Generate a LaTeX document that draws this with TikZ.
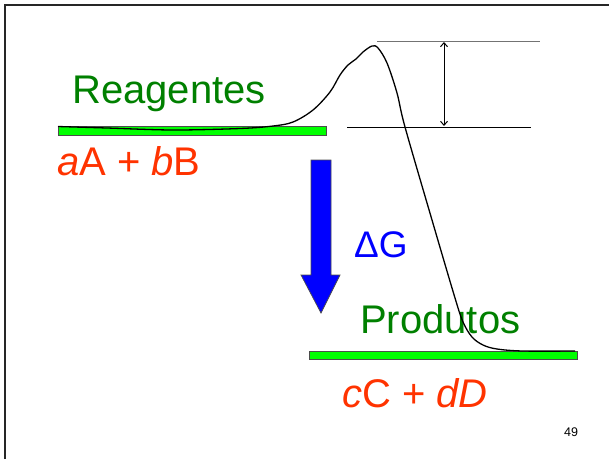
\documentclass[tikz,border=0pt]{standalone}
\usepackage{fontspec}
\setmainfont{Liberation Sans}
\usetikzlibrary{arrows.meta,positioning,calc}
\definecolor{reagred}{HTML}{FF3300}
\definecolor{txtgreen}{HTML}{008000}
\definecolor{bargreen}{HTML}{00FF00}
\definecolor{dgblue}{HTML}{0000FF}
\tikzset{
  bar style/.style={rectangle, draw=black!70, fill=bargreen, line width=0.8pt,
    minimum width=268pt, inner sep=0pt},
  lbl style/.style={inner sep=0pt, anchor=base west, font=\fontsize{40}{44}\selectfont},
  lvl style/.style={line width=0.9pt},
  arr style/.style={{Straight Barb[length=4pt,width=7pt]}-{Straight Barb[length=4pt,width=7pt]}, line width=1pt}
}
\begin{document}
\begin{tikzpicture}[x=1pt,y=-1pt]
\useasboundingbox (0,0) rectangle (609,459);

% slide frame
\draw[line width=2pt, black!85] (4.5,459) -- (4.5,5) -- (609,5);

% energy levels
\node[bar style, minimum height=9pt] (rbar) at (192,130.5) {};
\node[bar style, minimum height=8pt] (pbar) at (443,355) {};

\node[lbl style, text=txtgreen] (reag) at (72,103) {Reagentes};
\node[lbl style, text=reagred] (reagf) at (57,175) {\textit{a}A + \textit{b}B};
\node[lbl style, text=txtgreen] (prod) at (360,333) {Produtos};
\node[lbl style, text=reagred] (prodf) at (342,407) {\textit{c}C + \textit{dD}};

% reaction path
\draw[line width=1.3pt] plot[smooth, tension=0.55] coordinates {
  (58,126.5) (107,128) (173,130) (240,128.5) (273,126) (293,122) (313,110)
  (330,92) (340,75) (348,65) (356,59) (363,52) (372,46) (378,48) (387,63)
  (397,93) (405,127) (432,220) (455,298) (463,322)
  (472,337) (483,345) (497,349) (523,351) (575,351)};

% activation energy
\draw[lvl style, black!55] (377,41) -- (540,41);
\draw[lvl style] (347,127) -- (531,127);
\coordinate (eatop) at (444,42);
\coordinate (eabot) at (444,126);
\draw[arr style] (eatop) -- (eabot);

% free energy arrow
\draw[draw=black!70, fill=dgblue, line width=0.7pt]
  (311,160) -- (331,160) -- (331,275) -- (340,275) -- (321,313)
  -- (301,275) -- (311,275) -- cycle;
\node[inner sep=0pt, anchor=base west, text=dgblue, font=\fontsize{37}{40}\selectfont]
  (dg) at (354,257) {Δ{}G};

\node[inner sep=0pt, anchor=base west, font=\fontsize{12.5}{14}\selectfont] (pg) at (564,436) {49};

\end{tikzpicture}
\end{document}
